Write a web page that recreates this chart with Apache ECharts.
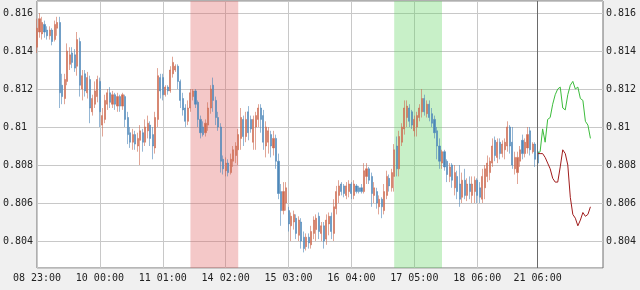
<!DOCTYPE html>
<html><head><meta charset="utf-8">
<script src="https://cdn.jsdelivr.net/npm/echarts@6/dist/echarts.min.js"></script>
<style>html,body{margin:0;padding:0;background:#f0f0f0}#c{width:640px;height:290px}</style>
</head><body><div id="c"></div>
<script>
const tickLabels = ["08 23:00","10 00:00","11 01:00","14 02:00","15 03:00","16 04:00","17 05:00","18 06:00","21 06:00"];
const tickIndex = [0,25,50,75,100,125,150,175,199];
const categoryCount = 226;

const opens = [
.8142,.8150,.8149,.8154,.8151,.8148,.8151,.8146,.8152,.8155,
.8122,.8115,.8124,.8133,.8139,.8138,.8132,.8145,.8120,.8128,
.8118,.8125,.8108,.8112,.8116,.8124,.8101,.8104,.8112,.8118,
.8112,.8117,.8111,.8116,.8111,.8116,.8105,.8097,.8092,.8096,
.8090,.8093,.8097,.8092,.8098,.8101,.8096,.8089,.8104,.8126,
.8126,.8117,.8121,.8119,.8128,.8130,.8132,.8124,.8115,.8110,
.8103,.8110,.8116,.8119,.8113,.8104,.8100,.8097,.8101,.8110,
.8122,.8114,.8105,.8100,.8083,.8077,.8081,.8076,.8082,.8085,
.8088,.8094,.8104,.8095,.8108,.8104,.8092,.8100,.8104,.8110,
.8106,.8090,.8092,.8096,.8089,.8094,.8082,.8066,.8056,.8060,
.8056,.8048,.8050,.8052,.8043,.8050,.8042,.8037,.8042,
.8038,.8044,.8046,.8053,.8044,.8048,.8041,.8049,.8053,.8044,
.8057,.8064,.8070,.8069,.8064,.8066,.8070,.8064,.8069,.8068,
.8068,.8066,.8074,.8078,.8074,.8064,.8066,.8058,.8062,.8056,
.8064,.8073,.8068,.8074,.8090,.8078,.8092,.8099,.8105,.8110,
.8108,.8098,.8100,.8105,.8108,.8115,.8107,.8112,.8107,.8104,
.8098,.8090,.8081,.8087,.8082,.8074,.8080,.8068,.8074,.8070,
.8063,.8072,.8064,.8070,.8064,.8066,.8072,.8068,.8062,.8068,
.8074,.8076,.8081,.8093,.8084,.8092,.8086,.8088,.8090,.8100,
.8092,.8078,.8076,.8082,.8093,.8086,.8089,.8098,.8087,.8091,.8087
];
const closes = [
.8152,.8157,.8155,.8150,.8148,.8151,.8145,.8154,.8155,.8118,
.8116,.8125,.8140,.8138,.8134,.8131,.8146,.8122,.8127,.8119,
.8126,.8110,.8115,.8119,.8125,.8108,.8106,.8114,.8118,.8113,
.8117,.8112,.8116,.8111,.8117,.8104,.8096,.8092,.8096,.8091,
.8094,.8098,.8092,.8100,.8102,.8094,.8090,.8105,.8127,.8119,
.8117,.8121,.8119,.8130,.8134,.8132,.8124,.8114,.8109,.8103,
.8110,.8118,.8119,.8112,.8104,.8097,.8096,.8102,.8110,.8120,
.8114,.8105,.8100,.8082,.8078,.8081,.8076,.8083,.8088,.8090,
.8096,.8105,.8095,.8104,.8097,.8099,.8104,.8106,.8110,.8104,
.8092,.8100,.8098,.8090,.8094,.8082,.8065,.8056,.8066,.8068,
.8049,.8053,.8054,.8044,.8051,.8040,.8036,.8042,.8039,
.8045,.8051,.8052,.8045,.8048,.8040,.8051,.8053,.8045,.8058,
.8066,.8069,.8066,.8065,.8069,.8070,.8065,.8070,.8066,.8066,
.8066,.8077,.8078,.8072,.8065,.8068,.8060,.8062,.8058,.8066,
.8074,.8069,.8076,.8088,.8078,.8095,.8100,.8110,.8111,.8103,
.8101,.8104,.8106,.8110,.8115,.8108,.8112,.8105,.8102,.8097,
.8090,.8082,.8087,.8079,.8075,.8079,.8072,.8076,.8066,.8062,
.8072,.8064,.8070,.8066,.8070,.8072,.8064,.8063,.8074,.8078,
.8081,.8082,.8090,.8085,.8092,.8086,.8091,.8092,.8100,.8090,
.8080,.8084,.8084,.8088,.8086,.8092,.8096,.8088,.8091,.8083,.8081
];
const lows = [
.8139,.8147,.8146,.8147,.8146,.8146,.8143,.8145,.8148,.8110,
.8112,.8112,.8122,.8130,.8131,.8129,.8127,.8116,.8114,.8116,
.8115,.8102,.8106,.8110,.8113,.8100,.8095,.8102,.8109,.8110,
.8110,.8109,.8108,.8108,.8109,.8100,.8091,.8089,.8088,.8088,
.8087,.8080,.8087,.8090,.8094,.8090,.8083,.8086,.8100,.8115,
.8114,.8116,.8117,.8118,.8126,.8129,.8120,.8110,.8106,.8100,
.8101,.8108,.8114,.8110,.8100,.8094,.8095,.8095,.8098,.8107,
.8108,.8101,.8098,.8076,.8075,.8074,.8074,.8075,.8079,.8081,
.8080,.8088,.8090,.8092,.8093,.8097,.8088,.8088,.8100,.8097,
.8088,.8084,.8086,.8084,.8085,.8078,.8062,.8048,.8054,.8056,
.8045,.8040,.8046,.8041,.8040,.8036,.8034,.8035,.8036,
.8036,.8041,.8040,.8041,.8040,.8036,.8038,.8043,.8041,.8040,
.8054,.8060,.8064,.8063,.8062,.8063,.8062,.8062,.8065,.8065,
.8065,.8065,.8070,.8070,.8058,.8060,.8057,.8054,.8052,.8054,
.8062,.8066,.8066,.8066,.8074,.8074,.8090,.8096,.8100,.8100,
.8099,.8095,.8095,.8103,.8105,.8106,.8105,.8103,.8100,.8094,
.8083,.8078,.8078,.8077,.8071,.8071,.8068,.8064,.8062,.8058,
.8060,.8062,.8061,.8062,.8060,.8060,.8060,.8060,.8060,.8062,
.8071,.8072,.8079,.8082,.8081,.8083,.8084,.8083,.8087,.8086,
.8078,.8075,.8070,.8079,.8083,.8084,.8086,.8085,.8086,.8079,.8079
];
const highs = [
.8157,.8160,.8158,.8156,.8153,.8153,.8152,.8156,.8158,.8158,
.8128,.8128,.8144,.8142,.8142,.8141,.8150,.8147,.8130,.8130,
.8129,.8127,.8117,.8124,.8127,.8126,.8110,.8117,.8120,.8121,
.8119,.8118,.8118,.8117,.8118,.8117,.8108,.8100,.8099,.8098,
.8097,.8101,.8099,.8104,.8106,.8103,.8100,.8108,.8131,.8128,
.8128,.8122,.8122,.8132,.8137,.8133,.8133,.8125,.8118,.8112,
.8114,.8120,.8120,.8120,.8114,.8106,.8103,.8104,.8113,.8122,
.8126,.8116,.8108,.8102,.8085,.8084,.8083,.8086,.8090,.8092,
.8099,.8110,.8106,.8108,.8111,.8106,.8106,.8108,.8112,.8112,
.8109,.8103,.8100,.8098,.8098,.8096,.8086,.8070,.8071,.8071,
.8058,.8055,.8056,.8054,.8053,.8052,.8045,.8044,.8044,
.8048,.8053,.8054,.8055,.8050,.8050,.8054,.8055,.8055,.8062,
.8069,.8072,.8071,.8070,.8071,.8072,.8071,.8072,.8070,.8069,
.8070,.8081,.8081,.8079,.8076,.8071,.8068,.8064,.8063,.8070,
.8077,.8075,.8078,.8091,.8095,.8098,.8102,.8114,.8114,.8112,
.8109,.8106,.8108,.8112,.8120,.8117,.8114,.8114,.8110,.8106,
.8100,.8094,.8088,.8088,.8083,.8081,.8081,.8080,.8077,.8080,
.8076,.8078,.8073,.8074,.8074,.8074,.8073,.8071,.8078,.8080,
.8085,.8084,.8094,.8095,.8094,.8094,.8093,.8094,.8103,.8101,
.8100,.8087,.8087,.8090,.8096,.8094,.8100,.8100,.8092,.8092,.8088
];

const forecastStart = 199;
const forecastUp = [.8086,.8087,.8099,.8092,.8104,.8105,.8112,.8117,.8120,.8121,.8110,.8109,.8117,.8122,.8124,.8120,.8121,.8115,.8114,.8103,.8101,.8094];
const forecastDown = [.8086,.8086,.8086,.8084,.8081,.8078,.8073,.8071,.8071,.8079,.8088,.8086,.8080,.8063,.8054,.8052,.8048,.8051,.8055,.8053,.8054,.8058];

const redZone = [61, 80];
const greenZone = [142, 161];
const splitIndex = 199;

const categories = Array.from({length: categoryCount}, (_, i) => String(i));
const candles = opens.map((o, i) => [o, closes[i], lows[i], highs[i]]);
const upLine = forecastUp.map((v, k) => [String(forecastStart + k), v]);
const downLine = forecastDown.map((v, k) => [String(forecastStart + k), v]);

const font = {fontFamily: 'DejaVu Sans Mono', fontSize: 10, color: '#222'};
const yMin = 0.802579, yMax = 0.816632;
const showTick = (idx) => tickIndex.indexOf(idx) >= 0;

const chart = echarts.init(document.getElementById('c'), null, {renderer: 'canvas'});
chart.setOption({
  animation: false,
  backgroundColor: '#f0f0f0',
  grid: {left: 37, right: 37, top: 1, bottom: 22, show: true, backgroundColor: '#ffffff', borderColor: '#6e6e6e', borderWidth: 1},
  xAxis: {
    type: 'category', data: categories, boundaryGap: false,
    axisLine: {show: false}, axisTick: {show: false},
    axisLabel: Object.assign({interval: showTick, margin: 5,
      formatter: (v, idx) => { const k = tickIndex.indexOf(Number(v)); return k >= 0 ? tickLabels[k] : ''; }}, font),
    splitLine: {show: true, interval: showTick, lineStyle: {color: '#c8c8c8', width: 1}}
  },
  yAxis: [
    {type: 'value', min: yMin, max: yMax, splitNumber: 7, position: 'left', scale: true,
     axisLine: {show: false}, axisTick: {show: false},
     axisLabel: Object.assign({align: 'left', margin: 34, showMinLabel: false, showMaxLabel: false}, font),
     splitLine: {show: true, lineStyle: {color: '#c8c8c8', width: 1}}},
    {type: 'value', min: yMin, max: yMax, splitNumber: 7, position: 'right', scale: true,
     axisLine: {show: false}, axisTick: {show: false},
     axisLabel: Object.assign({margin: 3, showMinLabel: false, showMaxLabel: false}, font),
     splitLine: {show: false}}
  ],
  series: [
    {type: 'line', data: [], z: 1, silent: true,
     markArea: {silent: true, itemStyle: {color: 'rgba(224,98,98,0.35)'},
       data: [[{xAxis: String(redZone[0])}, {xAxis: String(redZone[1])}]]}},
    {type: 'line', data: [], z: 1, silent: true,
     markArea: {silent: true, itemStyle: {color: 'rgba(98,212,98,0.35)'},
       data: [[{xAxis: String(greenZone[0])}, {xAxis: String(greenZone[1])}]]}},
    {type: 'candlestick', data: candles, z: 3, barWidth: 1.6,
     itemStyle: {color: '#cd6a50', color0: '#4d87b9', borderColor: '#cd6a50', borderColor0: '#4d87b9', borderWidth: 0.6}},
    {type: 'line', data: upLine, z: 4, symbol: 'none', lineStyle: {color: '#3cbc3c', width: 1},
     markLine: {silent: true, symbol: 'none', label: {show: false}, lineStyle: {color: '#6a6a6a', width: 1, type: 'solid'},
       data: [{xAxis: String(splitIndex)}]}},
    {type: 'line', data: downLine, z: 4, symbol: 'none', lineStyle: {color: '#a01c1c', width: 1}}
  ]
});
</script></body></html>
